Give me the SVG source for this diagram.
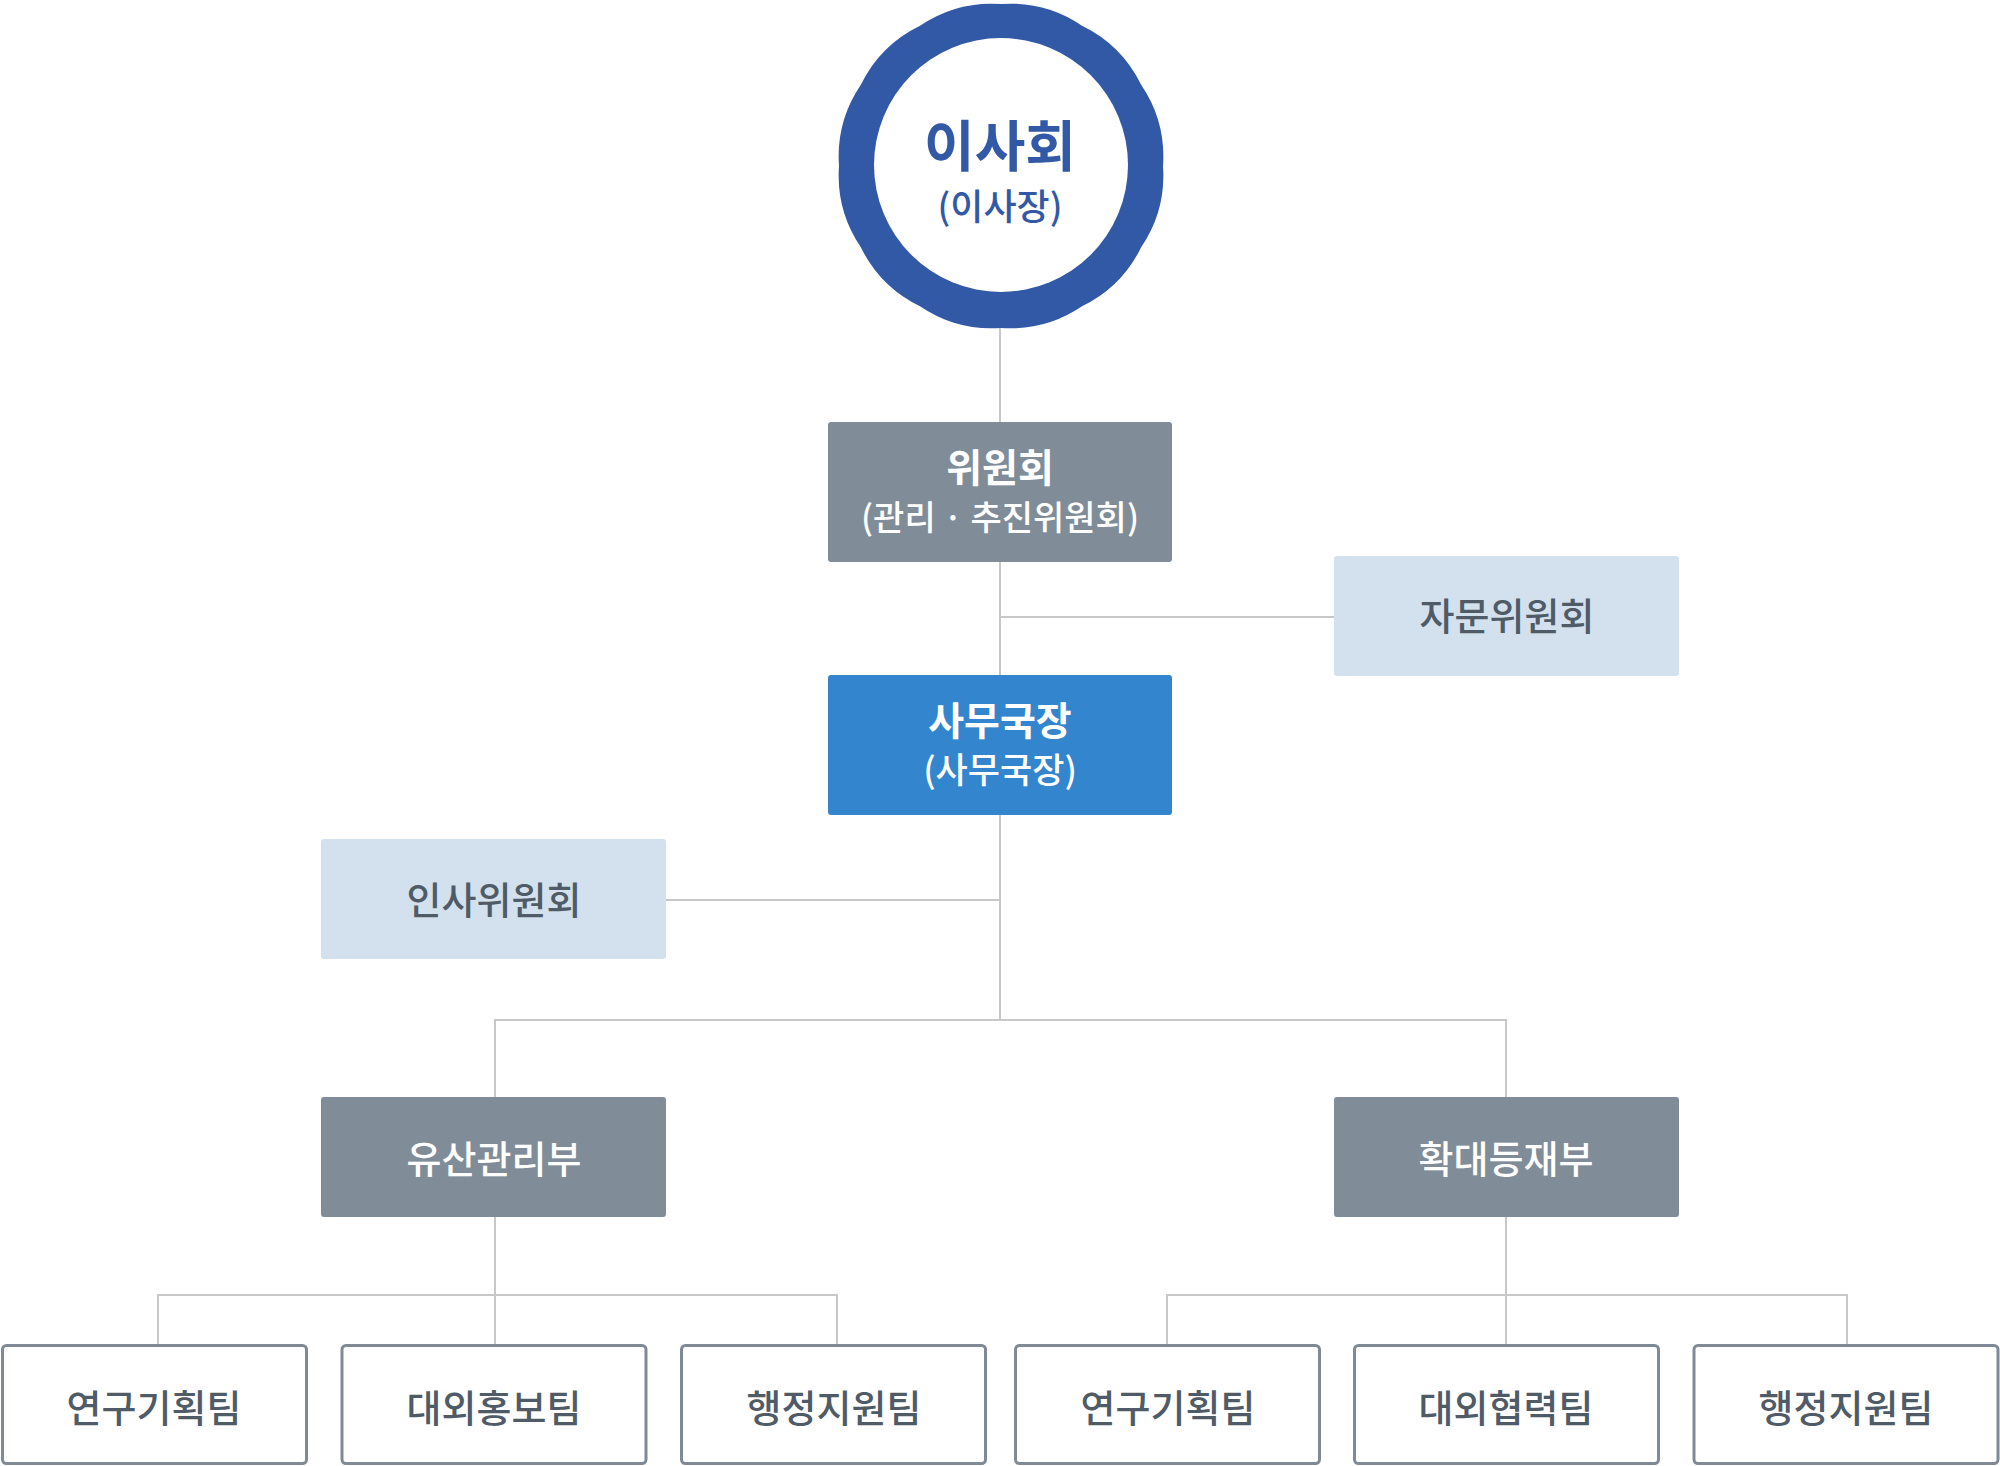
<svg xmlns="http://www.w3.org/2000/svg" width="2000" height="1466" viewBox="0 0 2000 1466">
<style>
text{font-family:"Noto Sans CJK KR","Noto Sans",sans-serif;text-anchor:middle;font-weight:500}
.ln{stroke:#C8C8C8;stroke-width:2;fill:none}
.gray{fill:#808D99}
.blue{fill:#3386CE}
.light{fill:#D3E1EE}
.team{fill:#FFFFFF;stroke:#7F8A96;stroke-width:3}
.wt{fill:#FFFFFF}
.dk{fill:#4F5B66}
text.b{font-weight:700}
</style>
<rect width="2000" height="1466" fill="#FFFFFF"/>
<g id="connectors">
<line class="ln" x1="1000" y1="325" x2="1000" y2="422"/>
<line class="ln" x1="1000" y1="562" x2="1000" y2="675"/>
<line class="ln" x1="1000" y1="617" x2="1334" y2="617"/>
<line class="ln" x1="1000" y1="815" x2="1000" y2="1020"/>
<line class="ln" x1="666" y1="900" x2="1000" y2="900"/>
<polyline class="ln" points="495,1097 495,1020 1506,1020 1506,1097"/>
<line class="ln" x1="495" y1="1217" x2="495" y2="1344"/>
<polyline class="ln" points="158,1344 158,1295 837,1295 837,1344"/>
<line class="ln" x1="1506" y1="1217" x2="1506" y2="1344"/>
<polyline class="ln" points="1167,1344 1167,1295 1847,1295 1847,1344"/>
</g>
<g id="board">
<path fill="#3259A6" d="M1163,166 A128,128 0 0 1 1141.3,247 A128,128 0 0 1 1082,306.3 A128,128 0 0 1 1001,328 A128,128 0 0 1 920,306.3 A128,128 0 0 1 860.7,247 A128,128 0 0 1 839,166 A128,128 0 0 1 860.7,85 A128,128 0 0 1 920,25.7 A128,128 0 0 1 1001,4 A128,128 0 0 1 1082,25.7 A128,128 0 0 1 1141.3,85 A128,128 0 0 1 1163,166 Z"/>
<circle cx="1001" cy="165" r="127" fill="#FFFFFF"/>
<text x="1000" y="166" font-size="55" class="b" fill="#3259A6">이사회</text>
<text x="1000" y="220" font-size="36" fill="#3259A6">(이사장)</text>
</g>
<g id="committee">
<rect class="gray" x="828" y="422" width="344" height="140" rx="3"/>
<text x="1000" y="482" font-size="39" class="b wt">위원회</text>
<text x="1000" y="530" font-size="34" class="wt">(관리 · 추진위원회)</text>
</g>
<g id="advisory">
<rect class="light" x="1334" y="556" width="345" height="120" rx="3"/>
<text x="1507" y="630" font-size="38" class="dk">자문위원회</text>
</g>
<g id="secretary">
<rect class="blue" x="828" y="675" width="344" height="140" rx="3"/>
<text x="1000" y="735" font-size="39" class="b wt">사무국장</text>
<text x="1000" y="783" font-size="35" class="wt">(사무국장)</text>
</g>
<g id="personnel">
<rect class="light" x="321" y="839" width="345" height="120" rx="3"/>
<text x="494" y="914" font-size="38" class="dk">인사위원회</text>
</g>
<g id="heritage">
<rect class="gray" x="321" y="1097" width="345" height="120" rx="3"/>
<text x="494" y="1173" font-size="38" class="wt">유산관리부</text>
</g>
<g id="expansion">
<rect class="gray" x="1334" y="1097" width="345" height="120" rx="3"/>
<text x="1506" y="1173" font-size="38" class="wt">확대등재부</text>
</g>
<g id="team1">
<rect class="team" x="2.5" y="1345.5" width="304" height="118" rx="4"/>
<text x="154" y="1422" font-size="38" class="dk">연구기획팀</text>
</g>
<g id="team2">
<rect class="team" x="342" y="1345.5" width="304" height="118" rx="4"/>
<text x="494" y="1422" font-size="38" class="dk">대외홍보팀</text>
</g>
<g id="team3">
<rect class="team" x="681.5" y="1345.5" width="304" height="118" rx="4"/>
<text x="834" y="1422" font-size="38" class="dk">행정지원팀</text>
</g>
<g id="team4">
<rect class="team" x="1015.5" y="1345.5" width="304" height="118" rx="4"/>
<text x="1168" y="1422" font-size="38" class="dk">연구기획팀</text>
</g>
<g id="team5">
<rect class="team" x="1354.5" y="1345.5" width="304" height="118" rx="4"/>
<text x="1506" y="1422" font-size="38" class="dk">대외협력팀</text>
</g>
<g id="team6">
<rect class="team" x="1694" y="1345.5" width="304" height="118" rx="4"/>
<text x="1846" y="1422" font-size="38" class="dk">행정지원팀</text>
</g>
</svg>
